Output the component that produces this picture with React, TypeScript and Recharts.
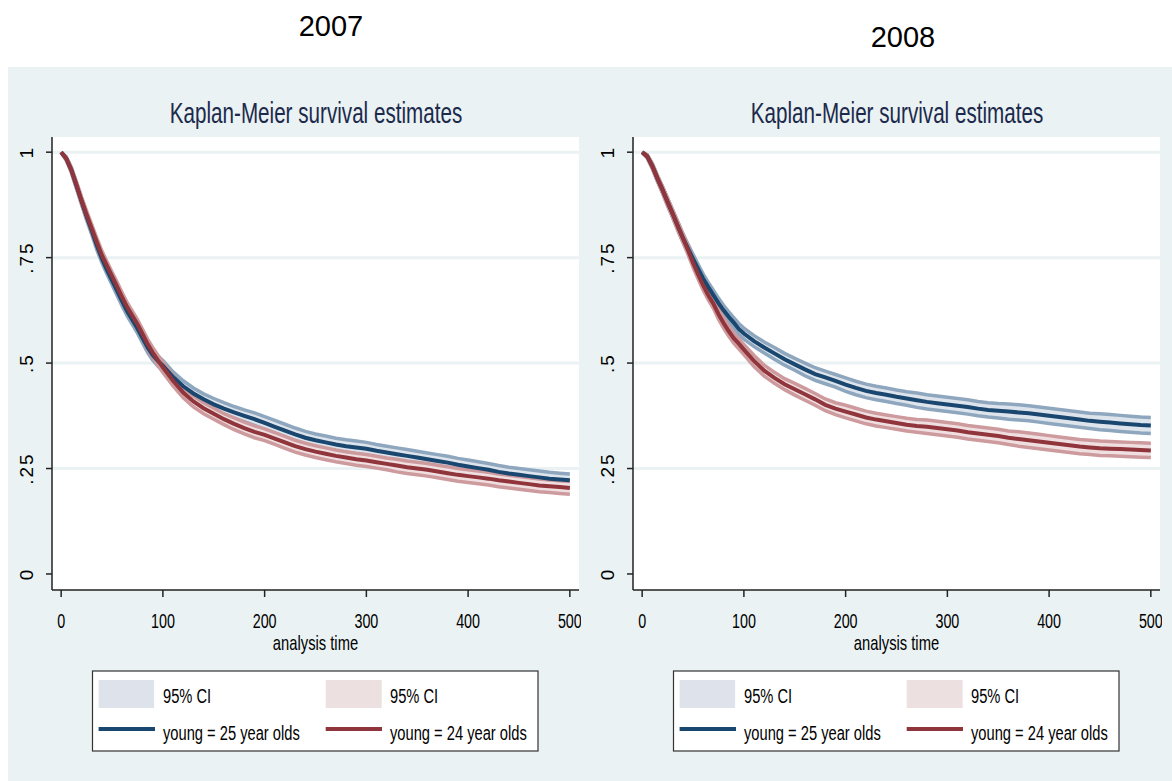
import React from 'react';
import { ComposedChart, Line, Area, XAxis, YAxis, CartesianGrid } from 'recharts';

// =============================================================================
// Data
// =============================================================================

const times = [
  0, 5, 10, 15, 20, 25, 30, 35, 40, 45, 50, 55, 60, 65, 70, 75, 80, 85, 90, 95, 100,
  110, 120, 130, 140, 150, 160, 170, 180, 190, 200,
  210, 220, 230, 240, 250, 260, 270, 280, 290, 300,
  310, 320, 330, 340, 350, 360, 370, 380, 390, 400,
  410, 420, 430, 440, 450, 460, 470, 480, 490, 500,
];

// 2007
const surv25_2007 = [
  1, 0.985, 0.958, 0.921, 0.884, 0.848, 0.814, 0.779, 0.748, 0.721, 0.696, 0.671, 0.646, 0.622, 0.602, 0.582, 0.559, 0.537, 0.519, 0.505, 0.494,
  0.467, 0.445, 0.428, 0.414, 0.402, 0.392, 0.383, 0.375, 0.367, 0.358,
  0.349, 0.34, 0.331, 0.323, 0.317, 0.312, 0.307, 0.303, 0.3, 0.297,
  0.292, 0.288, 0.284, 0.28, 0.276, 0.272, 0.268, 0.264, 0.259, 0.255,
  0.251, 0.247, 0.242, 0.238, 0.235, 0.232, 0.229, 0.226, 0.224, 0.222,
];
const ci25_2007 = [
  0, 0.004, 0.006, 0.007, 0.008, 0.009, 0.009, 0.01, 0.01, 0.01, 0.01, 0.011, 0.011, 0.011, 0.011, 0.011, 0.011, 0.012, 0.012, 0.012, 0.012,
  0.012, 0.013, 0.013, 0.013, 0.014, 0.014, 0.014, 0.014, 0.015, 0.015,
  0.015, 0.015, 0.015, 0.015, 0.015, 0.015, 0.015, 0.015, 0.015, 0.015,
  0.015, 0.015, 0.015, 0.015, 0.015, 0.015, 0.015, 0.015, 0.015, 0.015,
  0.015, 0.015, 0.015, 0.015, 0.015, 0.015, 0.015, 0.015, 0.015, 0.015,
];
const surv24_2007 = [
  1, 0.985, 0.958, 0.923, 0.886, 0.852, 0.82, 0.787, 0.756, 0.731, 0.706, 0.681, 0.656, 0.632, 0.612, 0.592, 0.569, 0.545, 0.525, 0.507, 0.49,
  0.458, 0.43, 0.409, 0.393, 0.38, 0.367, 0.356, 0.346, 0.337, 0.33,
  0.321, 0.312, 0.303, 0.296, 0.29, 0.285, 0.28, 0.276, 0.272, 0.269,
  0.265, 0.261, 0.257, 0.253, 0.25, 0.247, 0.243, 0.239, 0.235, 0.232,
  0.229, 0.226, 0.222, 0.219, 0.216, 0.213, 0.21, 0.208, 0.206, 0.204,
];
const ci24_2007 = [
  0, 0.004, 0.006, 0.007, 0.008, 0.009, 0.009, 0.01, 0.01, 0.01, 0.01, 0.011, 0.011, 0.011, 0.011, 0.011, 0.011, 0.012, 0.012, 0.012, 0.012,
  0.012, 0.012, 0.013, 0.013, 0.013, 0.013, 0.014, 0.014, 0.014, 0.014,
  0.014, 0.014, 0.014, 0.014, 0.014, 0.014, 0.014, 0.014, 0.014, 0.014,
  0.014, 0.014, 0.015, 0.015, 0.015, 0.015, 0.015, 0.015, 0.015, 0.015,
  0.015, 0.015, 0.015, 0.015, 0.015, 0.015, 0.015, 0.015, 0.015, 0.015,
];

// 2008
const surv25_2008 = [
  1, 0.99, 0.967, 0.938, 0.911, 0.882, 0.854, 0.825, 0.797, 0.772, 0.747, 0.723, 0.7, 0.68, 0.661, 0.642, 0.625, 0.61, 0.596, 0.581, 0.57,
  0.552, 0.537, 0.523, 0.509, 0.497, 0.485, 0.474, 0.466, 0.458, 0.449,
  0.441, 0.434, 0.429, 0.425, 0.42, 0.416, 0.412, 0.408, 0.405, 0.402,
  0.399, 0.396, 0.392, 0.389, 0.387, 0.385, 0.383, 0.381, 0.378, 0.375,
  0.372, 0.369, 0.366, 0.363, 0.361, 0.359, 0.357, 0.355, 0.353, 0.352,
];
const ci25_2008 = [
  0, 0.004, 0.006, 0.007, 0.008, 0.009, 0.009, 0.01, 0.01, 0.01, 0.011, 0.011, 0.011, 0.011, 0.012, 0.012, 0.012, 0.012, 0.012, 0.013, 0.013,
  0.013, 0.013, 0.014, 0.014, 0.014, 0.015, 0.015, 0.015, 0.015, 0.016,
  0.016, 0.016, 0.016, 0.016, 0.016, 0.016, 0.017, 0.017, 0.017, 0.017,
  0.017, 0.017, 0.017, 0.017, 0.017, 0.018, 0.018, 0.018, 0.018, 0.018,
  0.018, 0.018, 0.018, 0.018, 0.019, 0.019, 0.019, 0.019, 0.019, 0.019,
];
const surv24_2008 = [
  1, 0.99, 0.967, 0.938, 0.911, 0.882, 0.854, 0.825, 0.797, 0.768, 0.738, 0.71, 0.684, 0.661, 0.641, 0.616, 0.595, 0.576, 0.559, 0.546, 0.532,
  0.505, 0.482, 0.465, 0.45, 0.438, 0.426, 0.414, 0.401, 0.392, 0.385,
  0.378, 0.371, 0.366, 0.362, 0.358, 0.354, 0.351, 0.349, 0.346, 0.343,
  0.34, 0.336, 0.333, 0.33, 0.327, 0.323, 0.32, 0.317, 0.314, 0.311,
  0.308, 0.305, 0.302, 0.3, 0.298, 0.297, 0.296, 0.295, 0.294, 0.293,
];
const ci24_2008 = [
  0, 0.004, 0.006, 0.007, 0.008, 0.009, 0.009, 0.01, 0.01, 0.01, 0.011, 0.011, 0.011, 0.011, 0.011, 0.012, 0.012, 0.012, 0.012, 0.012, 0.012,
  0.013, 0.013, 0.013, 0.013, 0.014, 0.014, 0.014, 0.014, 0.014, 0.015,
  0.015, 0.015, 0.015, 0.015, 0.015, 0.015, 0.015, 0.016, 0.016, 0.016,
  0.016, 0.016, 0.016, 0.016, 0.016, 0.016, 0.017, 0.017, 0.017, 0.017,
  0.017, 0.017, 0.017, 0.017, 0.017, 0.017, 0.017, 0.017, 0.017, 0.017,
];

const xTicks = [0, 100, 200, 300, 400, 500];
const yTicks = [0, 0.25, 0.5, 0.75, 1];
const yTickLabels = ['0', '.25', '.5', '.75', '1'];
const gridValues = [0.25, 0.5, 0.75, 1];

const panelYears = ['2007', '2008'];
const chartTitle = 'Kaplan-Meier survival estimates';
const xAxisLabel = 'analysis time';
const legendLabels = ['95% CI', '95% CI', 'young = 25 year olds', 'young = 24 year olds'];

// =============================================================================
// Styles
// =============================================================================

const FONT = '"Liberation Sans", Arial, Helvetica, sans-serif';
const BG = '#eaf2f3';

const GROUPS = [
  { key: 'b', line: '#1a476f', band: '#8ea7be', fill: '#dde4ec' },
  { key: 'r', line: '#90353b', band: '#cd9a9e', fill: '#f0dfe0' },
];

// =============================================================================
// Helpers
// =============================================================================

function buildRows(s25: number[], c25: number[], s24: number[], c24: number[]) {
  return times.map((t, i) => ({
    t,
    b: s25[i],
    r: s24[i],
    bBand: [s25[i] - c25[i], s25[i] + c25[i]],
    rBand: [s24[i] - c24[i], s24[i] + c24[i]],
  }));
}

const rows2007 = buildRows(surv25_2007, ci25_2007, surv24_2007, ci24_2007);
const rows2008 = buildRows(surv25_2008, ci25_2008, surv24_2008, ci24_2008);

function NarrowText({ x, y, size, sx = 0.7, anchor = 'middle', fill = '#000', children }: any) {
  return (
    <g transform={`translate(${x},${y}) scale(${sx},1)`}>
      <text x={0} y={0} textAnchor={anchor} fontSize={size} fontFamily={FONT} fill={fill}>
        {children}
      </text>
    </g>
  );
}

const XTick = (props: any) => {
  const { x, y, payload } = props;
  return (
    <NarrowText x={x} y={y + 31} size={20.5} sx={0.7}>
      {payload.value}
    </NarrowText>
  );
};

const YTick = (props: any) => {
  const { x, y, payload } = props;
  const idx = yTicks.indexOf(payload.value);
  const label = idx >= 0 ? yTickLabels[idx] : String(payload.value);
  return (
    <g transform={`translate(${x - 12.7},${y}) rotate(-90)`}>
      <text x={0} y={0} textAnchor="middle" fontSize={19} letterSpacing={2} fontFamily={FONT} fill="#000">
        {label}
      </text>
    </g>
  );
};

// =============================================================================
// Panel
// =============================================================================

function Panel({ left, rows }: { left: number; rows: any[] }) {
  return (
    <div style={{ position: 'absolute', left, top: 0 }}>
      <ComposedChart
        width={581}
        height={781}
        data={rows}
        margin={{ top: 137, right: 2, bottom: 131, left: 0 }}
      >
        <CartesianGrid
          fill="#ffffff"
          fillOpacity={1}
          vertical={false}
          horizontalValues={gridValues}
          stroke={BG}
          strokeWidth={3}
        />
        <XAxis
          dataKey="t"
          type="number"
          domain={[-9, 509]}
          ticks={xTicks}
          interval={0}
          height={60}
          tickSize={7}
          tickMargin={0}
          tick={<XTick />}
          axisLine={{ stroke: '#222', strokeWidth: 1.5 }}
          tickLine={{ stroke: '#222', strokeWidth: 1.5 }}
        />
        <YAxis
          type="number"
          domain={[-0.038, 1.036]}
          ticks={yTicks}
          interval={0}
          width={52}
          tickSize={6}
          tickMargin={0}
          tick={<YTick />}
          axisLine={{ stroke: '#222', strokeWidth: 1.5 }}
          tickLine={{ stroke: '#222', strokeWidth: 1.5 }}
        />
        {GROUPS.map((g) => (
          <Area
            key={`${g.key}band`}
            dataKey={`${g.key}Band`}
            type="linear"
            stroke={g.band}
            strokeWidth={3.5}
            fill={g.fill}
            fillOpacity={1}
            dot={false}
            activeDot={false}
            isAnimationActive={false}
          />
        ))}
        {GROUPS.map((g) => (
          <Line
            key={`${g.key}line`}
            dataKey={g.key}
            type="linear"
            stroke={g.line}
            strokeWidth={4}
            dot={false}
            activeDot={false}
            isAnimationActive={false}
          />
        ))}
      </ComposedChart>
    </div>
  );
}

function Legend({ dx }: { dx: number }) {
  return (
    <g transform={`translate(${dx},0)`}>
      <rect x={92.5} y={671} width={445.5} height={80} fill="#ffffff" stroke="#333" strokeWidth={1.2} />
      <rect x={98.6} y={680} width={55.5} height={28} fill="#dee3eb" />
      <NarrowText x={163} y={703} size={21} anchor="start">{legendLabels[0]}</NarrowText>
      <rect x={325.7} y={680} width={56} height={28} fill="#ede0e1" />
      <NarrowText x={390} y={703} size={21} anchor="start">{legendLabels[1]}</NarrowText>
      <line x1={98.6} x2={155} y1={729} y2={729} stroke={GROUPS[0].line} strokeWidth={4} />
      <NarrowText x={163} y={740} size={21} anchor="start">{legendLabels[2]}</NarrowText>
      <line x1={325.7} x2={382} y1={729} y2={729} stroke={GROUPS[1].line} strokeWidth={4} />
      <NarrowText x={390} y={740} size={21} anchor="start">{legendLabels[3]}</NarrowText>
    </g>
  );
}

// =============================================================================
// App
// =============================================================================

export default function App() {
  const offsets = [0, 581];
  return (
    <div
      style={{
        position: 'absolute',
        left: 0,
        top: 0,
        width: 1172,
        height: 781,
        background: '#ffffff',
        overflow: 'hidden',
        fontFamily: FONT,
      }}
    >
      <div style={{ position: 'absolute', left: 8, top: 67, width: 1164, height: 714, background: BG }} />
      <Panel left={offsets[0]} rows={rows2007} />
      <Panel left={offsets[1]} rows={rows2008} />
      <svg
        width={1172}
        height={781}
        style={{ position: 'absolute', left: 0, top: 0, pointerEvents: 'none' }}
      >
        <text x={331} y={36} fontSize={29} textAnchor="middle" fontFamily={FONT} fill="#000">
          {panelYears[0]}
        </text>
        <text x={903} y={47} fontSize={29} textAnchor="middle" fontFamily={FONT} fill="#000">
          {panelYears[1]}
        </text>
        {offsets.map((dx) => (
          <g key={dx}>
            <NarrowText x={316 + dx} y={123} size={29.5} sx={0.7} fill="#1c2a4c">
              {chartTitle}
            </NarrowText>
            <NarrowText x={315.5 + dx} y={650} size={20.5} sx={0.72}>
              {xAxisLabel}
            </NarrowText>
            <Legend dx={dx} />
          </g>
        ))}
      </svg>
    </div>
  );
}
